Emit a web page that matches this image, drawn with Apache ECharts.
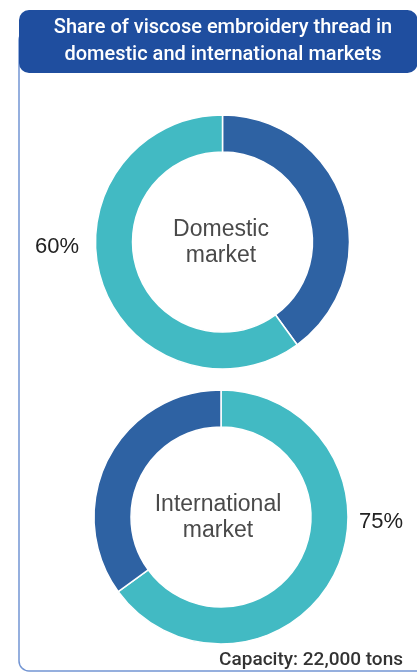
<!DOCTYPE html>
<html>
<head>
<meta charset="utf-8">
<script src="https://cdn.jsdelivr.net/npm/echarts@6/dist/echarts.min.js"></script>
<style>
html,body{margin:0;padding:0;background:#fff;}
#chart{width:417px;height:672px;}
</style>
</head>
<body>
<div id="chart"></div>
<script>
const titleLines = ["Share of viscose embroidery thread in", "domestic and international markets"];
const sliceNames = ["Dark segment", "Light segment"];
const domesticValues = [40, 60];
const internationalValues = [65, 35];
const domesticLabel = ["Domestic", "market"];
const internationalLabel = ["International", "market"];
const domesticPct = "60%";
const internationalPct = "75%";
const footnote = "Capacity: 22,000 tons";

const DARK = '#2e62a3';
const TEAL = '#42bac3';

const chart = echarts.init(document.getElementById('chart'), null, {renderer: 'canvas'});

function pie(center, values, colors) {
  return {
    type: 'pie',
    center: center,
    radius: [90, 127],
    startAngle: 90,
    clockwise: true,
    silent: true,
    label: {show: false},
    labelLine: {show: false},
    itemStyle: {borderColor: '#fff', borderWidth: 1.5},
    data: values.map((v, i) => ({value: v, name: sliceNames[i], itemStyle: {color: colors[i]}}))
  };
}

const centerText = {fontFamily: "'Liberation Sans', Arial, sans-serif", fontSize: 23, fill: '#4a4a4a', align: 'center', verticalAlign: 'middle', lineHeight: 26};
const pctText = {fontFamily: "'Liberation Sans', Arial, sans-serif", fontSize: 22, fill: '#222', verticalAlign: 'middle'};
const titleText = {fontFamily: 'Roboto, sans-serif', fontWeight: 500, fontSize: 20, fill: '#fff', align: 'center', verticalAlign: 'middle'};

chart.setOption({
  animation: false,
  series: [
    pie([222.5, 242], domesticValues, [DARK, TEAL]),
    pie([221, 517], internationalValues, [TEAL, DARK])
  ],
  graphic: [
    {type: 'rect', z: -1, shape: {x: 19, y: 30, width: 420, height: 641, r: 10}, style: {fill: 'none', stroke: '#7395d3', lineWidth: 1.5}},
    {type: 'rect', z: 10, shape: {x: 19, y: 10, width: 398.5, height: 63, r: 10}, style: {fill: '#1f4e9f'}},
    {type: 'text', z: 11, x: 223, y: 28, style: Object.assign({text: titleLines[0]}, titleText)},
    {type: 'text', z: 11, x: 223, y: 55, style: Object.assign({text: titleLines[1]}, titleText)},
    {type: 'text', z: 11, x: 221, y: 243, style: Object.assign({text: domesticLabel.join('\n')}, centerText)},
    {type: 'text', z: 11, x: 218, y: 518, style: Object.assign({text: internationalLabel.join('\n')}, centerText)},
    {type: 'text', z: 11, x: 35, y: 247, style: Object.assign({text: domesticPct, align: 'left'}, pctText)},
    {type: 'text', z: 11, x: 359, y: 522, style: Object.assign({text: internationalPct, align: 'left'}, pctText)},
    {type: 'text', z: 11, x: 403, y: 660, style: {text: footnote, fontFamily: 'Roboto, sans-serif', fontWeight: 500, fontSize: 19, fill: '#333', align: 'right', verticalAlign: 'middle'}}
  ]
});
</script>
</body>
</html>
